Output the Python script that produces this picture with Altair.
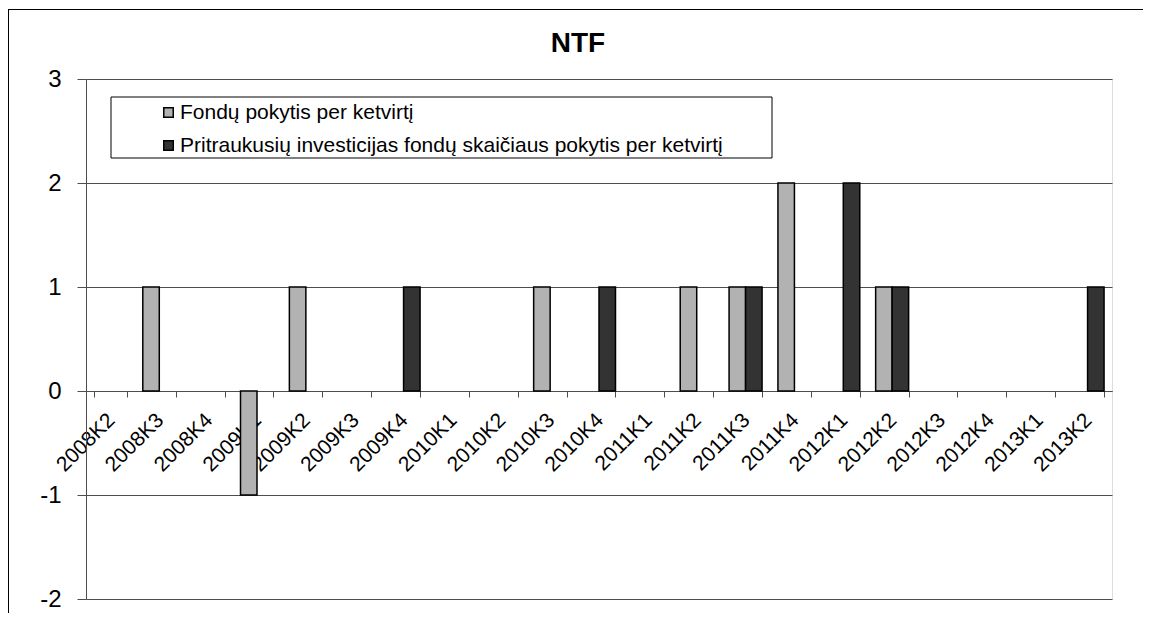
import altair as alt
import pandas as pd

categories = ["2008K2", "2008K3", "2008K4", "2009K1", "2009K2", "2009K3", "2009K4",
              "2010K1", "2010K2", "2010K3", "2010K4", "2011K1", "2011K2", "2011K3",
              "2011K4", "2012K1", "2012K2", "2012K3", "2012K4", "2013K1", "2013K2"]
series_names = ["Fondų pokytis per ketvirtį",
                "Pritraukusių investicijas fondų skaičiaus pokytis per ketvirtį"]
fund_change = [0, 1, 0, -1, 1, 0, 0, 0, 0, 1, 0, 0, 1, 1, 2, 0, 1, 0, 0, 0, 0]
invested_change = [0, 0, 0, 0, 0, 0, 1, 0, 0, 0, 1, 0, 0, 1, 0, 2, 1, 0, 0, 0, 1]
y_ticks = [-2, -1, 0, 1, 2, 3]
title_text = "NTF"
series_colors = ["#b2b2b2", "#333333"]

rows = []
for s_name, vals in zip(series_names, [fund_change, invested_change]):
    for q, v in zip(categories, vals):
        if v != 0:
            rows.append({"quarter": q, "series": s_name, "value": v})
df = pd.DataFrame(rows)

W, H = 1026, 520
FONT = "Liberation Sans"
GRID = "#4d4d4d"
zero_offset = -H * (0 - min(y_ticks)) / (max(y_ticks) - min(y_ticks))

bars = alt.Chart(df).mark_bar(stroke="black", strokeWidth=1.5).encode(
    x=alt.X("quarter:N", sort=categories,
            scale=alt.Scale(domain=categories, paddingInner=0.325, paddingOuter=0.1625),
            axis=alt.Axis(title=None, labelAngle=315, labelAlign="right", labelBaseline="top",
                          labelFontSize=21, labelPadding=12, tickSize=6, tickBand="extent",
                          offset=zero_offset, labelOverlap=False, labelBound=False,
                          labelOffset=-7,
                          domainColor=GRID, tickColor=GRID, labelColor="black",
                          labelFont=FONT, grid=False)),
    xOffset=alt.XOffset("series:N", scale=alt.Scale(domain=series_names)),
    y=alt.Y("value:Q", scale=alt.Scale(domain=[min(y_ticks), max(y_ticks)], nice=False),
            axis=alt.Axis(title=None, values=y_ticks, labelFontSize=24, labelPadding=16,
                          labelExpr="'' + datum.value",
                          tickSize=9, tickColor=GRID, domainColor=GRID, gridColor=GRID,
                          gridOpacity=1, grid=True, labelColor="black", labelFont=FONT)),
    color=alt.Color("series:N", scale=alt.Scale(domain=series_names, range=series_colors),
                    legend=alt.Legend(title=None, orient="none", legendX=72, legendY=23,
                                      direction="vertical", labelFontSize=21, labelFont=FONT,
                                      labelLimit=1200, symbolType="square", symbolSize=90,
                                      symbolStrokeColor="black", symbolStrokeWidth=1.5,
                                      rowPadding=11, labelOffset=1, padding=0,
                                      labelColor="black")),
)

legend_box = alt.Chart(alt.Data(values=[{}])).mark_rect(
    fill="white", stroke="black", strokeWidth=1
).encode(x=alt.value(25), x2=alt.value(686), y=alt.value(18), y2=alt.value(79))

frame_top = alt.Chart(alt.Data(values=[{}])).mark_rule(color="black", strokeWidth=1).encode(
    x=alt.value(-78), x2=alt.value(1060), y=alt.value(-69.5))
frame_left = alt.Chart(alt.Data(values=[{}])).mark_rule(color="black", strokeWidth=1).encode(
    x=alt.value(-77.5), y=alt.value(-70), y2=alt.value(560))

title = alt.Chart(alt.Data(values=[{"t": title_text}])).mark_text(
    font=FONT, fontSize=28, fontWeight="bold", align="center", baseline="alphabetic",
    color="black"
).encode(text="t:N", x=alt.value(492), y=alt.value(-27))

chart = alt.layer(frame_top, frame_left, legend_box, bars, title).properties(
    width=W, height=H,
    autosize=alt.AutoSizeParams(type="none"),
    padding={"left": 78, "top": 71, "right": 31, "bottom": 14},
).configure_view(stroke=None).configure(background="white")

chart.save("out.html", embed_options={"renderer": "svg", "actions": False})
